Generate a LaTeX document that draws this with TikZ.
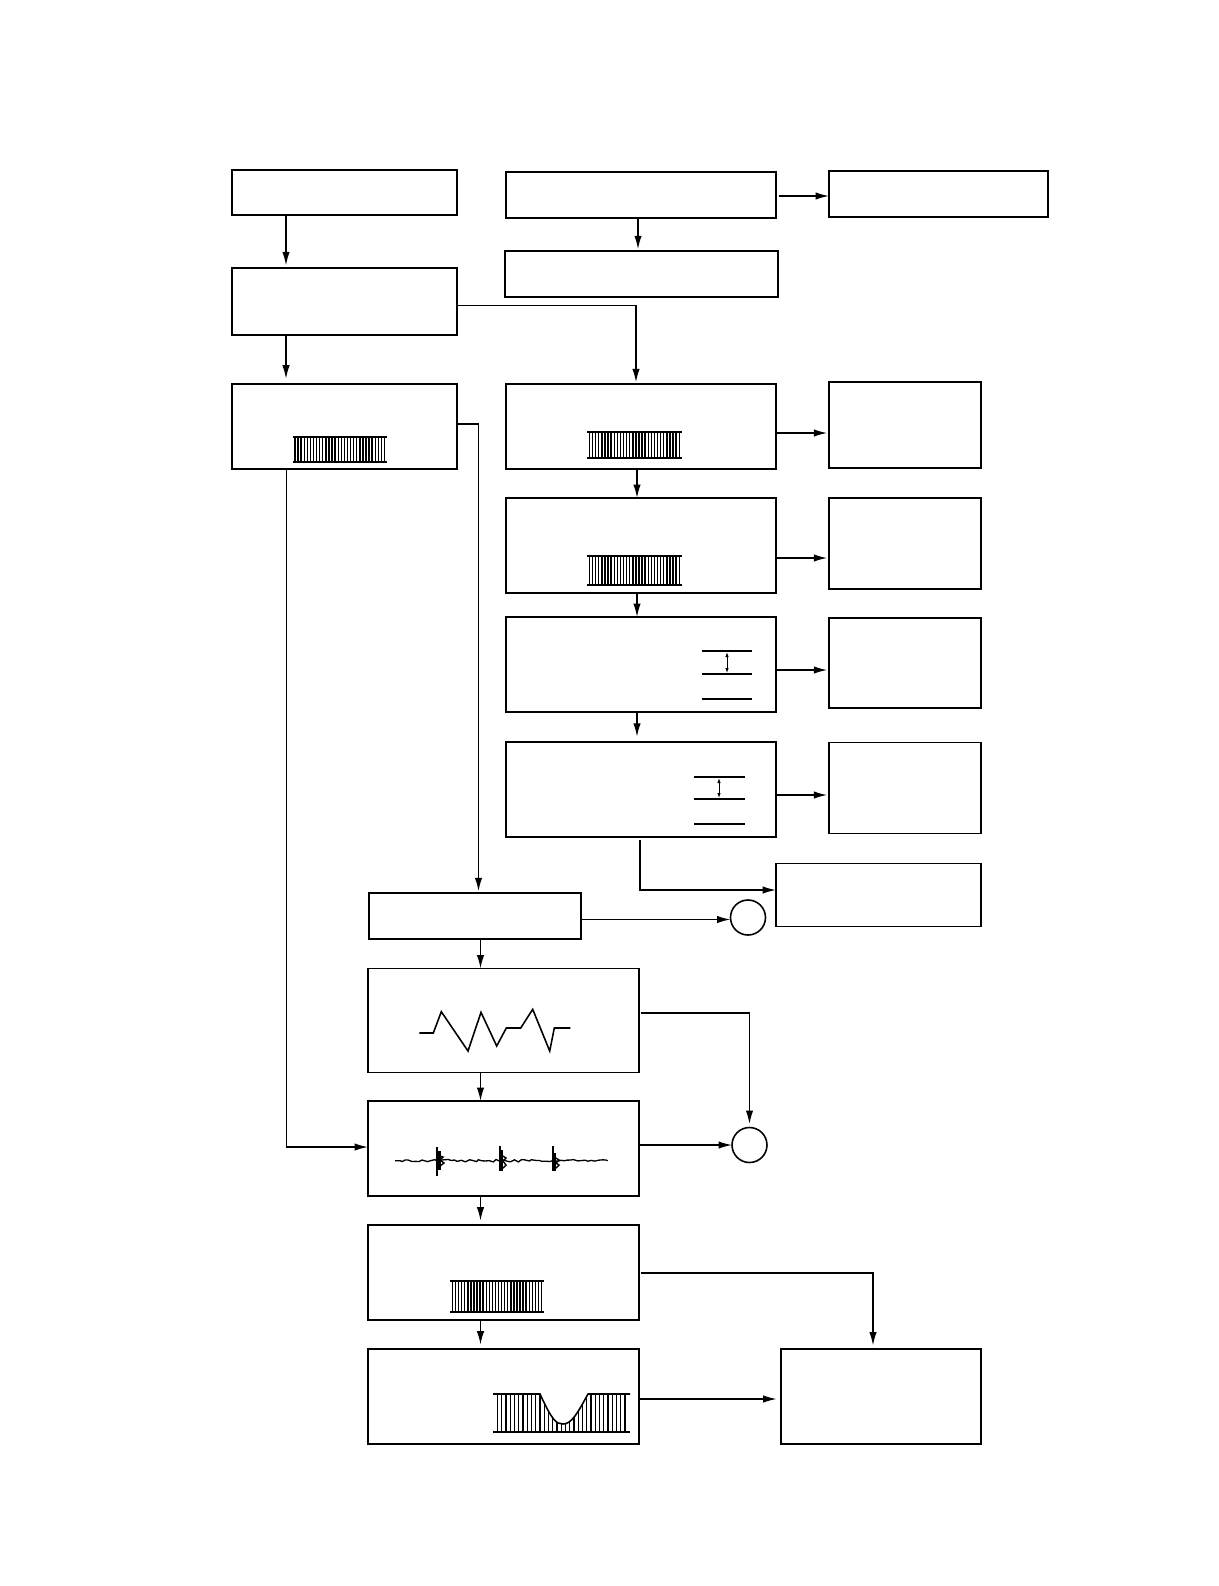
\documentclass[tikz,border=0pt]{standalone}
\usetikzlibrary{arrows.meta,decorations.pathmorphing}

\tikzset{
    boxnode/.style={draw, line width=0.9pt, inner sep=0pt, outer sep=0pt},
    thinbox/.style={draw, line width=0.65pt, inner sep=0pt, outer sep=0pt},
    joinnode/.style={draw, circle, line width=0.9pt, minimum size=0.7cm, inner sep=0pt, outer sep=0pt},
    conn/.style={line width=0.85pt, -{Latex[length=2.7mm,width=1.5mm]}},
    trace/.style={line width=0.9pt, line join=miter},
}

% comb of pulses: x from, x to, y top, y bottom
\newcommand{\combmark}[4]{
    \draw[line width=1pt] (#1,#3) -- (#2,#3);
    \draw[line width=1pt] (#1,#4) -- (#2,#4);
    \foreach \i in {0,...,29}
        \draw[line width=0.8pt] ({#1+2.5+\i*(#2-#1-5)/29},#3) -- ({#1+2.5+\i*(#2-#1-5)/29},#4);
}

\begin{document}
\begin{tikzpicture}[x=0.02cm, y=-0.02cm]
    \useasboundingbox (0,0) rectangle (1218,1586);

    % Left column, top
    \node[boxnode, minimum width=4.5cm, minimum height=0.9cm] (boxa) at (344.5,192.5) {};
    \node[boxnode, minimum width=4.5cm, minimum height=1.34cm] (boxb) at (344.5,301.5) {};
    \node[boxnode, minimum width=4.5cm, minimum height=1.7cm] (boxc) at (344.5,426.5) {};

    % Top row
    \node[boxnode, minimum width=5.4cm, minimum height=0.92cm] (boxd) at (641,195) {};
    \node[boxnode, minimum width=4.38cm, minimum height=0.92cm] (boxe) at (938.5,194) {};
    \node[boxnode, minimum width=5.46cm, minimum height=0.92cm] (boxf) at (641.5,274) {};

    % Middle column
    \node[boxnode, minimum width=5.4cm, minimum height=1.7cm] (boxg) at (641,426.5) {};
    \node[boxnode, minimum width=5.4cm, minimum height=1.9cm] (boxh) at (641,545.5) {};
    \node[boxnode, minimum width=5.4cm, minimum height=1.9cm] (boxi) at (641,664.5) {};
    \node[thinbox, minimum width=5.4cm, minimum height=1.9cm] (boxj) at (641,789.5) {};

    % Right column
    \node[thinbox, minimum width=3.04cm, minimum height=1.72cm] (outg) at (905,425) {};
    \node[thinbox, minimum width=3.04cm, minimum height=1.82cm] (outh) at (905,543.5) {};
    \node[thinbox, minimum width=3.04cm, minimum height=1.8cm] (outi) at (905,663) {};
    \node[thinbox, minimum width=3.04cm, minimum height=1.82cm] (outj) at (905,788) {};
    \node[thinbox, minimum width=4.1cm, minimum height=1.26cm] (outk) at (878.5,895) {};

    % Lower column
    \node[thinbox, minimum width=4.24cm, minimum height=0.92cm] (boxk) at (475,916) {};
    \node[boxnode, minimum width=5.42cm, minimum height=2.08cm] (boxl) at (503.5,1020.5) {};
    \node[boxnode, minimum width=5.42cm, minimum height=1.9cm] (boxm) at (503.5,1148.5) {};
    \node[boxnode, minimum width=5.42cm, minimum height=1.9cm] (boxn) at (503.5,1272.5) {};
    \node[boxnode, minimum width=5.42cm, minimum height=1.9cm] (boxo) at (503.5,1396.5) {};
    \node[boxnode, minimum width=4cm, minimum height=1.9cm] (outo) at (881,1396.5) {};

    % Circles
    \node[joinnode] (joina) at (748,917.5) {};
    \node[joinnode] (joinb) at (749.5,1145) {};

    % Connectors
    \draw[conn, shorten >=1.5pt] (286,0 |- boxa.south) -- (286,0 |- boxb.north);
    \draw[conn, shorten >=3pt] (286,0 |- boxb.south) -- (286,0 |- boxc.north);
    \draw[conn, shorten <=1.5pt] (boxd.east |- 0,196) -- (boxe.west |- 0,196);
    \draw[conn, shorten >=1pt] (638,0 |- boxd.south) -- (638,0 |- boxf.north);
    \draw[conn, shorten >=1pt] (boxb.east |- 0,305.5) -| (636,0 |- boxg.north);
    \draw[conn, shorten >=1pt] (boxc.east |- 0,424) -| (478.5,0 |- boxk.north);
    \draw[conn] (286.5,0 |- boxc.south) |- (boxm.west |- 0,1147);

    \draw[conn] (637,0 |- boxg.south) -- (637,0 |- boxh.north);
    \draw[conn] (637,0 |- boxh.south) -- (637,0 |- boxi.north);
    \draw[conn, shorten >=3pt] (637,0 |- boxi.south) -- (637,0 |- boxj.north);
    \draw[conn, shorten >=1pt] (boxg.east |- 0,433) -- (outg.west |- 0,433);
    \draw[conn, shorten >=1pt] (boxh.east |- 0,558) -- (outh.west |- 0,558);
    \draw[conn, shorten >=1pt] (boxi.east |- 0,670) -- (outi.west |- 0,670);
    \draw[conn, shorten >=1pt] (boxj.east |- 0,795) -- (outj.west |- 0,795);
    \draw[conn, shorten <=1.5pt] (640,0 |- boxj.south) |- (outk.west |- 0,890);

    \draw[conn] (boxk.east |- 0,919.5) -- (joina.west |- 0,919.5);
    \draw[conn] (480.5,0 |- boxk.south) -- (480.5,0 |- boxl.north);
    \draw[conn] (480.5,0 |- boxl.south) -- (480.5,0 |- boxm.north);
    \draw[conn, shorten >=2.5pt] (480.5,0 |- boxm.south) -- (480.5,0 |- boxn.north);
    \draw[conn, shorten >=2.5pt] (480.5,0 |- boxn.south) -- (480.5,0 |- boxo.north);
    \draw[conn, shorten <=1pt, shorten >=2pt] (boxl.east |- 0,1013) -| (joinb.north);
    \draw[conn] (boxm.east |- 0,1145) -- (joinb.west);
    \draw[conn, shorten <=1pt, shorten >=2pt] (boxn.east |- 0,1273) -| (873,0 |- outo.north);
    \draw[conn, shorten >=2.5pt] (boxo.east |- 0,1399) -- (outo.west |- 0,1399);

    % Pulse combs
    \combmark{292.5}{387}{436.7}{461.7}
    \combmark{587}{681.7}{431.7}{458.3}
    \combmark{587}{681.7}{555.7}{585}
    \combmark{450}{544}{1281}{1311.7}

    % Dip comb
    \begin{scope}
        \clip (490,1394) -- (540,1394) .. controls (552,1420) and (556,1424) .. (563,1424)
            .. controls (572,1424) and (578,1412) .. (588,1394) -- (632,1394) -- (632,1433) -- (490,1433) -- cycle;
        \foreach \hx in {0,...,30}
            \draw[line width=0.8pt] ({497.5+\hx*4.25},1394) -- ({497.5+\hx*4.25},1432);
    \end{scope}
    \draw[trace] (493,1394) -- (540,1394) .. controls (552,1420) and (556,1424) .. (563,1424)
        .. controls (572,1424) and (578,1412) .. (588,1394) -- (630,1394);
    \draw[line width=1pt] (493,1432) -- (630,1432);

    % Level marks
    \draw[line width=0.6pt] (702,651) -- (752,651);
    \draw[line width=0.6pt] (702,674) -- (752,674);
    \draw[line width=1pt] (702,699) -- (752,699);
    \draw[line width=0.5pt, {Latex[length=1mm,width=0.7mm]}-{Latex[length=1mm,width=0.7mm]}] (727,652) -- (727,673);
    \draw[line width=1pt] (694,777) -- (745,777);
    \draw[line width=0.6pt] (694,799) -- (745,799);
    \draw[line width=1pt] (694,824) -- (745,824);
    \draw[line width=0.5pt, {Latex[length=1mm,width=0.7mm]}-{Latex[length=1mm,width=0.7mm]}] (719,778) -- (719,798);

    % Zigzag
    \draw[trace] (419.3,1033) -- (433.3,1033) -- (441.3,1011.7) -- (468,1051) -- (481,1012.3)
        -- (496.7,1046) -- (506.3,1028) -- (520.7,1028) -- (532.7,1009.3) -- (549.7,1051)
        -- (554.3,1028) -- (570.3,1028);

    % Noisy trace with bursts
    \draw[line width=0.75pt, decorate, decoration={random steps, segment length=2pt, amplitude=0.7pt}]
        (395,1160.7) -- (607.7,1160.7);
    \draw[line width=0.7pt] (437,1147) -- (437,1176);
    \draw[line width=2pt] (439,1151) -- (439,1170);
    \draw[line width=0.8pt] (440,1156) -- (443,1157) -- (440,1160) -- (444,1163) -- (440,1166);
    \draw[line width=0.7pt] (500,1146) -- (500,1171);
    \draw[line width=2pt] (501.5,1150) -- (501.5,1171);
    \draw[line width=0.8pt] (503,1156) -- (506,1158) -- (503,1161) -- (506,1165) -- (503,1168);
    \draw[line width=0.7pt] (553,1146) -- (553,1171);
    \draw[line width=2pt] (554.5,1153) -- (554.5,1171);
    \draw[line width=0.8pt] (556,1158) -- (559,1160) -- (556,1163) -- (559,1165) -- (556,1168);
\end{tikzpicture}
\end{document}
